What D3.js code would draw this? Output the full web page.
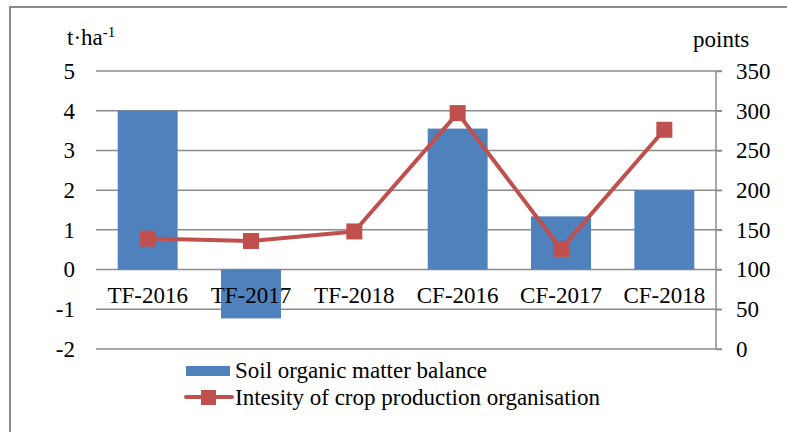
<!DOCTYPE html>
<html>
<head>
<meta charset="utf-8">
<script src="https://cdn.jsdelivr.net/npm/d3@7"></script>
<style>
  body { margin: 0; background: #fff; }
  svg text { font-family: "Liberation Serif", "Times New Roman", serif !important; fill: #000; }
</style>
</head>
<body>
<svg id="chart" width="787" height="432"></svg>
<script>
// chart data
const categories = ["TF-2016", "TF-2017", "TF-2018", "CF-2016", "CF-2017", "CF-2018"];
const balanceValues = [4.0, -1.23, 0, 3.55, 1.34, 2.0];      // t·ha-1
const intensityValues = [139, 136, 148, 297, 126, 276];      // points
const leftTicks = [-2, -1, 0, 1, 2, 3, 4, 5];
const rightTicks = [0, 50, 100, 150, 200, 250, 300, 350];
const seriesNames = ["Soil organic matter balance", "Intesity of crop production organisation"];

const svg = d3.select("#chart");
const barColor = "#4F81BD";
const lineColor = "#C0504D";
const gridColor = "#8c8c8c";
const fontSize = 23;

// outer frame
svg.append("rect")
  .attr("x", 10).attr("y", 7)
  .attr("width", 800).attr("height", 450)
  .attr("fill", "none")
  .attr("stroke", "#8a8a8a")
  .attr("stroke-width", 2);

const plotLeft = 96, plotRight = 716, plotTop = 71, plotBottom = 349;

let x = d3.scaleBand().domain(categories).range([plotLeft, plotRight]).paddingInner(0.42).paddingOuter(0.21);
let xPoint = d3.scaleBand().domain(categories).range([plotLeft, plotRight]);
let yLeft = d3.scaleLinear().domain([-2, 5]).range([plotBottom, plotTop]);
let yRight = d3.scaleLinear().domain([0, 350]).range([plotBottom, plotTop]);

// gridlines
svg.append("g").selectAll("line")
  .data(leftTicks).enter().append("line")
  .attr("x1", plotLeft).attr("x2", plotRight + 6)
  .attr("y1", d => yLeft(d)).attr("y2", d => yLeft(d))
  .attr("stroke", gridColor).attr("stroke-width", 1.5);

// right axis
let rightAxis = d3.axisRight(yRight).tickValues(rightTicks).tickSize(6).tickPadding(14).tickFormat(d => String(d));
let gR = svg.append("g")
  .attr("transform", "translate(" + plotRight + ",0)")
  .call(rightAxis);
gR.select(".domain").attr("stroke", gridColor).attr("stroke-width", 1.5).attr("d", "M0," + plotTop + "V" + plotBottom);
gR.selectAll(".tick line").attr("stroke", gridColor).attr("stroke-width", 1.5);
gR.selectAll("text").style("font-size", fontSize + "px").attr("fill", "#000");

// left tick labels (no axis line)
let leftAxis = d3.axisLeft(yLeft).tickValues(leftTicks).tickSize(0).tickPadding(21).tickFormat(d => String(d));
let gL = svg.append("g")
  .attr("transform", "translate(" + plotLeft + ",0)")
  .call(leftAxis);
gL.select(".domain").remove();
gL.selectAll("text").style("font-size", fontSize + "px").attr("fill", "#000");

// bars
svg.append("g").selectAll("rect")
  .data(balanceValues).enter().append("rect")
  .attr("x", (d, i) => x(categories[i]))
  .attr("width", x.bandwidth())
  .attr("y", d => yLeft(Math.max(0, d)))
  .attr("height", d => Math.abs(yLeft(d) - yLeft(0)))
  .attr("fill", barColor);

// category labels
svg.append("g").selectAll("text")
  .data(categories).enter().append("text")
  .attr("x", d => xPoint(d) + xPoint.bandwidth() / 2)
  .attr("y", 303)
  .attr("text-anchor", "middle")
  .style("font-size", fontSize + "px")
  .text(d => d);

// line
let line = d3.line()
  .x((d, i) => xPoint(categories[i]) + xPoint.bandwidth() / 2)
  .y(d => yRight(d));
svg.append("path")
  .datum(intensityValues)
  .attr("d", line)
  .attr("fill", "none")
  .attr("stroke", lineColor)
  .attr("stroke-width", 4)
  .attr("stroke-linejoin", "round");
svg.append("g").selectAll("rect")
  .data(intensityValues).enter().append("rect")
  .attr("x", (d, i) => xPoint(categories[i]) + xPoint.bandwidth() / 2 - 8)
  .attr("y", d => yRight(d) - 8)
  .attr("width", 16).attr("height", 16)
  .attr("fill", lineColor);

// axis titles
let unit = svg.append("text").attr("x", 67).attr("y", 45).style("font-size", fontSize + "px");
unit.append("tspan").text("t·ha");
unit.append("tspan").attr("dy", -8).style("font-size", "15px").text("-1");
svg.append("text").attr("x", 693).attr("y", 47).style("font-size", fontSize + "px").text("points");

// legend
let legend = svg.append("g");
legend.append("rect").attr("x", 186).attr("y", 366).attr("width", 44).attr("height", 10).attr("fill", barColor);
legend.append("text").attr("x", 235).attr("y", 378).style("font-size", fontSize + "px").text(seriesNames[0]);
legend.append("line").attr("x1", 186).attr("x2", 232).attr("y1", 397).attr("y2", 397)
  .attr("stroke", lineColor).attr("stroke-width", 4).attr("stroke-linecap", "round");
legend.append("rect").attr("x", 201).attr("y", 390).attr("width", 15).attr("height", 15).attr("fill", lineColor);
legend.append("text").attr("x", 235).attr("y", 405).style("font-size", fontSize + "px").text(seriesNames[1]);
</script>
</body>
</html>
